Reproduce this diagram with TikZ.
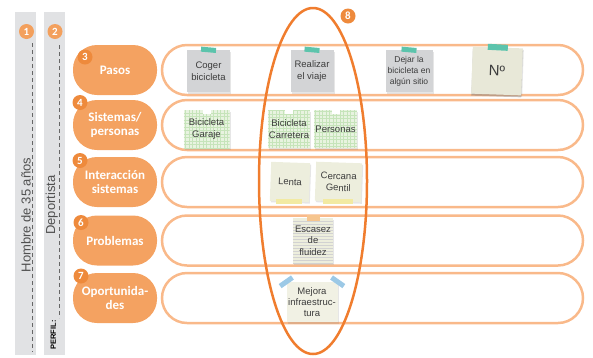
\documentclass[tikz,border=0pt]{standalone}
\usepackage{fontspec}
\setmainfont{Liberation Sans}
\newfontfamily\pillfont{Carlito}
\usetikzlibrary{shadows,shapes.geometric}
\definecolor{pillcol}{HTML}{F4A261}
\definecolor{numcol}{HTML}{EE8A3C}
\definecolor{lanecol}{HTML}{F9B98A}
\definecolor{ellcol}{HTML}{F07D2E}
\definecolor{colgray}{HTML}{E1E2E4}
\definecolor{coltext}{HTML}{505050}
\definecolor{notetext}{HTML}{3C3C3C}
\definecolor{graynote}{HTML}{D3D4D6}
\definecolor{beige}{HTML}{EDEEDD}
\definecolor{greennote}{HTML}{E8F3E0}
\definecolor{gridcol}{HTML}{C6E4BA}
\definecolor{teal}{HTML}{5CC4AC}
\definecolor{yellowtape}{HTML}{F2EAA2}
\definecolor{orangetape}{HTML}{F6C58E}
\definecolor{bluetape}{HTML}{9CC9E6}

\begin{document}
\begin{tikzpicture}[x=1pt,y=-1pt,
  lane/.style={draw=lanecol, line width=2.5pt, rounded corners=25pt, minimum width=421pt, minimum height=50pt},
  pill/.style={fill=pillcol, rounded corners=24pt, minimum width=84pt, minimum height=50pt, text=white, align=center, font=\pillfont\bfseries\fontsize{13}{14.5}\selectfont},
  num/.style={circle, fill=numcol, text=white, inner sep=0pt, minimum size=15pt, font=\pillfont\bfseries\fontsize{11}{11}\selectfont},
  note/.style={minimum width=43pt, minimum height=42pt, inner sep=1pt, align=center, text=notetext, font=\fontsize{9.5}{11.5}\selectfont, drop shadow={opacity=0.2, shadow xshift=1pt, shadow yshift=-1.5pt}},
  gridnote/.style={note, fill=greennote, path picture={\draw[gridcol, line width=0.3pt, step=3.5pt] (path picture bounding box.south west) grid (path picture bounding box.north east);}},
  linenote/.style={note, fill=beige, path picture={\foreach \k in {1,...,16} \draw[gray!35, line width=0.4pt] ([yshift=-\k*3pt]path picture bounding box.north west) -- ([yshift=-\k*3pt]path picture bounding box.north east);}},
  tape/.style={minimum width=15pt, minimum height=5pt, inner sep=0pt},
  perfline/.style={dash pattern=on 4pt off 3pt, draw=gray!80!black, line width=0.8pt},
  coltxt/.style={rotate=90, anchor=south, text=coltext, inner sep=1pt}]
\useasboundingbox (0,0) rectangle (593,357);

\fill[colgray] (15,12) rectangle (36,355);
\fill[colgray] (44,12) rectangle (65,355);
\draw[perfline] (32.5,43) -- (32.5,352);
\draw[perfline] (59,45) -- (59,318);
\node[coltxt, font=\fontsize{13}{13}\selectfont] (hombre) at (32,215) {Hombre de 35 años};
\node[coltxt, font=\fontsize{13}{13}\selectfont] (deportista) at (59,205) {Deportista};
\node[coltxt, font=\bfseries\fontsize{7.5}{7.5}\selectfont, text=black] (perfil) at (57,335) {PERFIL:};
\node[num, fill=pillcol!90!numcol] (n1) at (26.5,31.5) {1};
\node[num, fill=pillcol!90!numcol] (n2) at (55,31.5) {2};

\node[lane] (l1) at (372.5,70) {};
\node[lane] (l2) at (372.5,125) {};
\node[lane] (l3) at (372.5,182) {};
\node[lane] (l4) at (372.5,240.5) {};
\node[lane] (l5) at (372.5,298) {};

\node[pill] (pasos) at (115,70) {Pasos};
\node[pill] (sistemas) at (115,125) {Sistemas/\\personas};
\node[pill] (interaccion) at (115,182) {Interacción\\sistemas};
\node[pill] (problemas) at (115,240.5) {Problemas};
\node[pill] (oportunidades) at (115,298) {Oportunida-\\des};
\node[num] (n3) at (85,57) {3};
\node[num] (n4) at (80,102.5) {4};
\node[num] (n5) at (80,160.5) {5};
\node[num] (n6) at (81,222.5) {6};
\node[num] (n7) at (81,276) {7};

\node[draw=ellcol, line width=2.5pt, ellipse, minimum width=108pt, minimum height=346pt] (grupo) at (313,181) {};
\node[num] (n8) at (348,16) {8};

\node[note, fill=graynote] (coger) at (208.5,71) {Coger\\bicicleta};
\node[note, fill=graynote] (viaje) at (312,71) {Realizar\\el viaje};
\node[note, fill=graynote, minimum width=47pt, font=\fontsize{8.5}{11}\selectfont] (dejar) at (409,71) {Dejar la\\bicicleta en\\algún sitio};
\node[note, fill=beige!95!gray, minimum width=50pt, minimum height=47pt, rotate=-2, font=\fontsize{15}{15}\selectfont, drop shadow={opacity=0.35, shadow xshift=0pt, shadow yshift=-2pt}] (numero) at (497,71) {Nº};
\node[tape, fill=teal, rotate=-5] (tcoger) at (coger.north) {};
\node[tape, fill=teal, rotate=-5] (tviaje) at (viaje.north) {};
\node[tape, fill=teal, rotate=-5] (tdejar) at (dejar.north) {};
\node[tape, fill=teal, minimum width=20pt, minimum height=6pt, rotate=-3] (tnumero) at (numero.north) {};

\node[gridnote, minimum height=38pt, minimum width=46pt] (garaje) at (206.5,129) {Bicicleta\\Garaje};
\node[gridnote, minimum height=38pt, minimum width=41pt] (carretera) at (289,129) {Bicicleta\\Carretera};
\node[gridnote, minimum height=38pt, minimum width=43pt] (personas) at (335.5,129) {Personas};
\node[tape, fill=white, minimum width=8pt, minimum height=9pt] (tgaraje) at (garaje.north) {};
\node[tape, fill=white, minimum width=8pt, minimum height=9pt] (tcarretera) at (carretera.north) {};
\node[tape, fill=white, minimum width=8pt, minimum height=9pt] (tpersonas) at (personas.north) {};

\node[note, fill=beige, minimum width=39pt, minimum height=39pt, rotate=-2] (lenta) at (290,182) {Lenta};
\node[note, fill=beige, minimum width=46pt, minimum height=39pt, rotate=-2] (cercana) at (338.5,182) {Cercana\\Gentil};
\node[tape, fill=yellowtape, minimum width=26pt, minimum height=5pt] (tlenta) at (lenta.south) {};
\node[tape, fill=yellowtape, minimum width=30pt, minimum height=5pt] (tcercana) at (cercana.south) {};

\node[linenote, minimum width=40pt, minimum height=45pt] (escasez) at (313,240.5) {Escasez\\de\\fluidez};
\node[tape, fill=orangetape, minimum width=13pt, minimum height=6pt] (tescasez) at (escasez.north) {};

\node[note, fill=beige!80!white, minimum width=51pt, minimum height=40pt, font=\fontsize{9.5}{11}\selectfont] (mejora) at (312,302) {Mejora\\infraestruc-\\tura};
\node[tape, fill=bluetape, rotate=35] (tmejora1) at (mejora.north west) {};
\node[tape, fill=bluetape, rotate=-35] (tmejora2) at (mejora.north east) {};
\end{tikzpicture}
\end{document}
